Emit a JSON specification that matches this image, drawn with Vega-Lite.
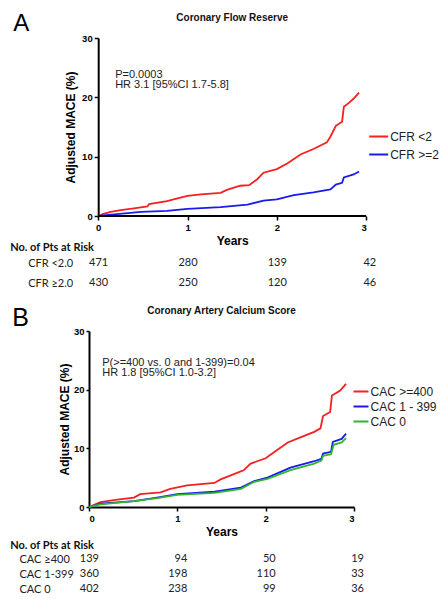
{
  "$schema": "https://vega.github.io/schema/vega-lite/v6.json",
  "background": "white",
  "padding": {"left": 9, "top": 12, "right": 2, "bottom": 2},
  "config": {"view": {"stroke": null}, "font": "Liberation Sans"},
  "spacing": 16,
  "resolve": {"scale": {"color": "independent"}, "legend": {"color": "independent"}},
  "datasets": {
    "curvesA": [
      {"g": "CFR <2", "t": 0, "v": 0}, {"g": "CFR <2", "t": 0.05, "v": 0.3}, {"g": "CFR <2", "t": 0.14, "v": 0.7}, {"g": "CFR <2", "t": 0.25, "v": 1.0},
      {"g": "CFR <2", "t": 0.4, "v": 1.3}, {"g": "CFR <2", "t": 0.55, "v": 1.6}, {"g": "CFR <2", "t": 0.57, "v": 2.0}, {"g": "CFR <2", "t": 0.77, "v": 2.5},
      {"g": "CFR <2", "t": 0.92, "v": 3.1}, {"g": "CFR <2", "t": 1.0, "v": 3.4}, {"g": "CFR <2", "t": 1.15, "v": 3.65}, {"g": "CFR <2", "t": 1.37, "v": 3.9},
      {"g": "CFR <2", "t": 1.44, "v": 4.4}, {"g": "CFR <2", "t": 1.59, "v": 5.1}, {"g": "CFR <2", "t": 1.69, "v": 5.2}, {"g": "CFR <2", "t": 1.78, "v": 6.2},
      {"g": "CFR <2", "t": 1.85, "v": 7.3}, {"g": "CFR <2", "t": 2.0, "v": 7.9}, {"g": "CFR <2", "t": 2.12, "v": 8.9}, {"g": "CFR <2", "t": 2.27, "v": 10.4},
      {"g": "CFR <2", "t": 2.41, "v": 11.3}, {"g": "CFR <2", "t": 2.56, "v": 12.4}, {"g": "CFR <2", "t": 2.6, "v": 13.4}, {"g": "CFR <2", "t": 2.66, "v": 15.2},
      {"g": "CFR <2", "t": 2.73, "v": 15.9}, {"g": "CFR <2", "t": 2.75, "v": 18.4}, {"g": "CFR <2", "t": 2.81, "v": 19.1}, {"g": "CFR <2", "t": 2.86, "v": 19.8},
      {"g": "CFR <2", "t": 2.92, "v": 20.8},
      {"g": "CFR >=2", "t": 0, "v": 0}, {"g": "CFR >=2", "t": 0.21, "v": 0.3}, {"g": "CFR >=2", "t": 0.48, "v": 0.7}, {"g": "CFR >=2", "t": 0.77, "v": 0.85},
      {"g": "CFR >=2", "t": 1.0, "v": 1.2}, {"g": "CFR >=2", "t": 1.37, "v": 1.5}, {"g": "CFR >=2", "t": 1.67, "v": 1.9}, {"g": "CFR >=2", "t": 1.85, "v": 2.6},
      {"g": "CFR >=2", "t": 2.0, "v": 2.8}, {"g": "CFR >=2", "t": 2.19, "v": 3.5}, {"g": "CFR >=2", "t": 2.41, "v": 4.0}, {"g": "CFR >=2", "t": 2.6, "v": 4.5},
      {"g": "CFR >=2", "t": 2.66, "v": 5.3}, {"g": "CFR >=2", "t": 2.73, "v": 5.6}, {"g": "CFR >=2", "t": 2.75, "v": 6.5}, {"g": "CFR >=2", "t": 2.86, "v": 7.0},
      {"g": "CFR >=2", "t": 2.92, "v": 7.5}
    ],
    "riskA": [
      {"row": "CFR <2.0", "t": 0, "n": "471"}, {"row": "CFR <2.0", "t": 1, "n": "280"}, {"row": "CFR <2.0", "t": 2, "n": "139"}, {"row": "CFR <2.0", "t": 3, "n": "42"},
      {"row": "CFR ≥2.0", "t": 0, "n": "430"}, {"row": "CFR ≥2.0", "t": 1, "n": "250"}, {"row": "CFR ≥2.0", "t": 2, "n": "120"}, {"row": "CFR ≥2.0", "t": 3, "n": "46"}
    ],
    "curvesB": [
      {"g": "CAC >=400", "t": 0, "v": 0}, {"g": "CAC >=400", "t": 0.13, "v": 0.85}, {"g": "CAC >=400", "t": 0.32, "v": 1.25}, {"g": "CAC >=400", "t": 0.51, "v": 1.6},
      {"g": "CAC >=400", "t": 0.58, "v": 2.2}, {"g": "CAC >=400", "t": 0.81, "v": 2.5}, {"g": "CAC >=400", "t": 0.92, "v": 3.1}, {"g": "CAC >=400", "t": 1.11, "v": 3.7},
      {"g": "CAC >=400", "t": 1.42, "v": 4.1}, {"g": "CAC >=400", "t": 1.49, "v": 4.7}, {"g": "CAC >=400", "t": 1.64, "v": 5.6}, {"g": "CAC >=400", "t": 1.75, "v": 6.25},
      {"g": "CAC >=400", "t": 1.83, "v": 7.4}, {"g": "CAC >=400", "t": 2.0, "v": 8.3}, {"g": "CAC >=400", "t": 2.09, "v": 9.3}, {"g": "CAC >=400", "t": 2.25, "v": 11.0},
      {"g": "CAC >=400", "t": 2.4, "v": 11.9}, {"g": "CAC >=400", "t": 2.55, "v": 12.8}, {"g": "CAC >=400", "t": 2.62, "v": 13.4}, {"g": "CAC >=400", "t": 2.65, "v": 15.5},
      {"g": "CAC >=400", "t": 2.73, "v": 16.2}, {"g": "CAC >=400", "t": 2.75, "v": 19.0}, {"g": "CAC >=400", "t": 2.84, "v": 19.8}, {"g": "CAC >=400", "t": 2.91, "v": 21.0},
      {"g": "CAC 1 - 399", "t": 0, "v": 0}, {"g": "CAC 1 - 399", "t": 0.13, "v": 0.57}, {"g": "CAC 1 - 399", "t": 0.51, "v": 1.0}, {"g": "CAC 1 - 399", "t": 0.77, "v": 1.6},
      {"g": "CAC 1 - 399", "t": 1.0, "v": 2.2}, {"g": "CAC 1 - 399", "t": 1.42, "v": 2.6}, {"g": "CAC 1 - 399", "t": 1.72, "v": 3.3}, {"g": "CAC 1 - 399", "t": 1.87, "v": 4.4},
      {"g": "CAC 1 - 399", "t": 2.02, "v": 5.0}, {"g": "CAC 1 - 399", "t": 2.28, "v": 6.7}, {"g": "CAC 1 - 399", "t": 2.55, "v": 7.8}, {"g": "CAC 1 - 399", "t": 2.63, "v": 8.2},
      {"g": "CAC 1 - 399", "t": 2.65, "v": 9.1}, {"g": "CAC 1 - 399", "t": 2.74, "v": 9.4}, {"g": "CAC 1 - 399", "t": 2.76, "v": 11.1}, {"g": "CAC 1 - 399", "t": 2.86, "v": 11.6},
      {"g": "CAC 1 - 399", "t": 2.91, "v": 12.5},
      {"g": "CAC 0", "t": 0, "v": 0}, {"g": "CAC 0", "t": 0.13, "v": 0.45}, {"g": "CAC 0", "t": 0.51, "v": 1.0}, {"g": "CAC 0", "t": 0.77, "v": 1.5},
      {"g": "CAC 0", "t": 1.0, "v": 2.05}, {"g": "CAC 0", "t": 1.42, "v": 2.4}, {"g": "CAC 0", "t": 1.72, "v": 3.1}, {"g": "CAC 0", "t": 1.87, "v": 4.3},
      {"g": "CAC 0", "t": 2.02, "v": 4.8}, {"g": "CAC 0", "t": 2.28, "v": 6.3}, {"g": "CAC 0", "t": 2.55, "v": 7.4}, {"g": "CAC 0", "t": 2.63, "v": 7.9},
      {"g": "CAC 0", "t": 2.65, "v": 8.7}, {"g": "CAC 0", "t": 2.74, "v": 9.0}, {"g": "CAC 0", "t": 2.77, "v": 10.6}, {"g": "CAC 0", "t": 2.86, "v": 11.0},
      {"g": "CAC 0", "t": 2.91, "v": 11.75}
    ],
    "riskB": [
      {"row": "CAC ≥400", "t": 0, "n": "139"}, {"row": "CAC ≥400", "t": 1, "n": "94"}, {"row": "CAC ≥400", "t": 2, "n": "50"}, {"row": "CAC ≥400", "t": 3, "n": "19"},
      {"row": "CAC 1-399", "t": 0, "n": "360"}, {"row": "CAC 1-399", "t": 1, "n": "198"}, {"row": "CAC 1-399", "t": 2, "n": "110"}, {"row": "CAC 1-399", "t": 3, "n": "33"},
      {"row": "CAC 0", "t": 0, "n": "402"}, {"row": "CAC 0", "t": 1, "n": "238"}, {"row": "CAC 0", "t": 2, "n": "99"}, {"row": "CAC 0", "t": 3, "n": "36"}
    ]
  },
  "vconcat": [
    {
      "width": 277.2,
      "height": 178,
      "layer": [
        {
          "layer": [
            {
              "data": {"name": "curvesA"},
              "mark": {"type": "line", "strokeWidth": 1.8},
              "encoding": {
                "x": {"field": "t", "type": "quantitative", "scale": {"domain": [-0.103, 3], "nice": false, "zero": false},
                  "axis": {"title": "Years", "values": [0, 1, 2, 3], "format": "d", "grid": false, "domain": false, "labelFont": "Liberation Sans", "labelFontWeight": "bold", "labelFontSize": 9.5, "labelColor": "#000", "labelPadding": 2, "tickColor": "#000", "tickWidth": 1.5, "tickSize": 4, "titleFont": "Liberation Sans", "titleFontSize": 12, "titleFontWeight": "bold", "titleColor": "#000", "titlePadding": 4, "titleX": 143.2}},
                "y": {"field": "v", "type": "quantitative", "scale": {"domain": [0, 30], "nice": false},
                  "axis": {"title": "Adjusted MACE (%)", "offset": -9.2, "values": [0, 5, 10, 15, 20, 25, 30], "grid": false, "labelFont": "Liberation Sans", "labelFontWeight": "bold", "labelFontSize": 9.5, "labelColor": "#000", "labelPadding": 2, "domainColor": "#000", "domainWidth": 2, "tickColor": "#000", "tickWidth": 1.5, "tickSize": 4, "titleFont": "Liberation Sans", "titleFontSize": 12, "titleFontWeight": "bold", "titleColor": "#000", "titlePadding": 4}},
                "color": {"field": "g", "type": "nominal", "scale": {"domain": ["CFR <2", "CFR >=2"], "range": ["#f52020", "#1a1aef"]},
                  "legend": {"orient": "none", "legendX": 279.2, "legendY": 88, "title": null, "symbolType": "stroke", "symbolSize": 361, "symbolStrokeWidth": 2, "labelFont": "Liberation Sans", "labelFontSize": 12, "labelColor": "#222", "labelOffset": 1, "rowPadding": 1, "padding": 0}}
              }
            },
            {
              "data": {"values": [{}]},
              "mark": {"type": "rule", "strokeWidth": 2, "color": "#000"},
              "encoding": {"x": {"datum": 0}, "x2": {"datum": 3}, "y": {"datum": 0}}
            },
            {
              "data": {"values": [{}]},
              "mark": {"type": "text", "align": "center", "baseline": "alphabetic", "fontSize": 10, "fontWeight": "bold", "font": "Liberation Sans", "color": "#111"},
              "encoding": {"x": {"datum": 1.5}, "y": {"datum": 32.9}, "text": {"value": "Coronary Flow Reserve"}}
            },
            {
              "data": {"values": [{}]},
              "mark": {"type": "text", "align": "left", "baseline": "alphabetic", "fontSize": 11, "font": "Liberation Sans", "color": "#222", "lineHeight": 10.5},
              "encoding": {"x": {"datum": 0.19}, "y": {"datum": 23.3}, "text": {"value": ["P=0.0003", "HR 3.1 [95%CI 1.7-5.8]"]}}
            },
            {
              "data": {"values": [{}]},
              "mark": {"type": "text", "align": "left", "baseline": "alphabetic", "fontSize": 24, "font": "Liberation Sans", "color": "#000"},
              "encoding": {"x": {"datum": -0.95}, "y": {"datum": 31.1}, "text": {"value": "A"}}
            }
          ]
        },
        {
          "data": {"name": "riskA"},
          "mark": {"type": "text", "align": "right", "baseline": "middle", "dx": 10, "font": "Lato", "fontSize": 11, "color": "#222"},
          "encoding": {
            "x": {"field": "t", "type": "quantitative"},
            "y": {"field": "row", "type": "nominal", "scale": {"type": "point", "domain": ["CFR <2.0", "CFR ≥2.0"], "range": [225.3, 245.3], "padding": 0},
              "axis": {"orient": "left", "domain": false, "ticks": false, "grid": false, "labelAlign": "left", "labelBaseline": "middle", "labelPadding": 61.3, "labelFont": "Lato", "labelFontSize": 11, "labelColor": "#222",
                "title": "No. of Pts at Risk", "titleAngle": 0, "titleAlign": "left", "titleBaseline": "middle", "titleX": -79.3, "titleY": 209.3, "titleFont": "Lato", "titleFontSize": 11, "titleFontWeight": "bold", "titleColor": "#111"}},
            "text": {"field": "n"}
          }
        }
      ],
      "resolve": {"scale": {"y": "independent"}, "axis": {"y": "independent"}}
    },
    {
      "width": 265,
      "height": 176,
      "layer": [
        {
          "layer": [
            {
              "data": {"name": "curvesB"},
              "mark": {"type": "line", "strokeWidth": 1.8},
              "encoding": {
                "x": {"field": "t", "type": "quantitative", "scale": {"domain": [0, 3], "nice": false},
                  "axis": {"title": "Years", "values": [0, 1, 2, 3], "format": "d", "grid": false, "labelFont": "Liberation Sans", "labelFontWeight": "bold", "labelFontSize": 9.5, "labelColor": "#000", "labelPadding": 2, "domainColor": "#000", "domainWidth": 2, "tickColor": "#000", "tickWidth": 1.5, "tickSize": 4, "titleFont": "Liberation Sans", "titleFontSize": 12, "titleFontWeight": "bold", "titleColor": "#000", "titlePadding": 4}},
                "y": {"field": "v", "type": "quantitative", "scale": {"domain": [0, 30], "nice": false},
                  "axis": {"title": "Adjusted MACE (%)", "values": [0, 5, 10, 15, 20, 25, 30], "grid": false, "labelFont": "Liberation Sans", "labelFontWeight": "bold", "labelFontSize": 9.5, "labelColor": "#000", "labelPadding": 2, "domainColor": "#000", "domainWidth": 2, "tickColor": "#000", "tickWidth": 1.5, "tickSize": 3, "titleFont": "Liberation Sans", "titleFontSize": 12, "titleFontWeight": "bold", "titleColor": "#000", "titlePadding": 2}},
                "color": {"field": "g", "type": "nominal", "scale": {"domain": ["CAC >=400", "CAC 1 - 399", "CAC 0"], "range": ["#f52020", "#1a1aef", "#2fb52f"]},
                  "legend": {"orient": "none", "legendX": 263.5, "legendY": 52, "title": null, "symbolType": "stroke", "symbolSize": 225, "symbolStrokeWidth": 2, "labelFont": "Liberation Sans", "labelFontSize": 12, "labelColor": "#222", "labelOffset": 1, "rowPadding": 0, "padding": 0}}
              }
            },
            {
              "data": {"values": [{}]},
              "mark": {"type": "text", "align": "center", "baseline": "alphabetic", "fontSize": 10, "fontWeight": "bold", "font": "Liberation Sans", "color": "#111"},
              "encoding": {"x": {"datum": 1.5}, "y": {"datum": 32.9}, "text": {"value": "Coronary Artery Calcium Score"}}
            },
            {
              "data": {"values": [{}]},
              "mark": {"type": "text", "align": "left", "baseline": "alphabetic", "fontSize": 11, "font": "Liberation Sans", "color": "#222", "lineHeight": 10.7},
              "encoding": {"x": {"datum": 0.15}, "y": {"datum": 24.1}, "text": {"value": ["P(>=400 vs. 0 and 1-399)=0.04", "HR 1.8 [95%CI 1.0-3.2]"]}}
            },
            {
              "data": {"values": [{}]},
              "mark": {"type": "text", "align": "left", "baseline": "alphabetic", "fontSize": 25, "font": "Liberation Sans", "color": "#000"},
              "encoding": {"x": {"datum": -0.87}, "y": {"datum": 30.8}, "text": {"value": "B"}}
            }
          ]
        },
        {
          "data": {"name": "riskB"},
          "mark": {"type": "text", "align": "right", "baseline": "middle", "dx": 10, "font": "Lato", "fontSize": 11, "color": "#222"},
          "encoding": {
            "x": {"field": "t", "type": "quantitative"},
            "y": {"field": "row", "type": "nominal", "scale": {"type": "point", "domain": ["CAC ≥400", "CAC 1-399", "CAC 0"], "range": [228, 258], "padding": 0},
              "axis": {"orient": "left", "domain": false, "ticks": false, "grid": false, "labelAlign": "left", "labelBaseline": "middle", "labelPadding": 70, "labelFont": "Lato", "labelFontSize": 11, "labelColor": "#222",
                "title": "No. of Pts at Risk", "titleAngle": 0, "titleAlign": "left", "titleBaseline": "middle", "titleX": -79.3, "titleY": 214, "titleFont": "Lato", "titleFontSize": 11, "titleFontWeight": "bold", "titleColor": "#111"}},
            "text": {"field": "n"}
          }
        }
      ],
      "resolve": {"scale": {"y": "independent"}, "axis": {"y": "independent"}}
    }
  ]
}
